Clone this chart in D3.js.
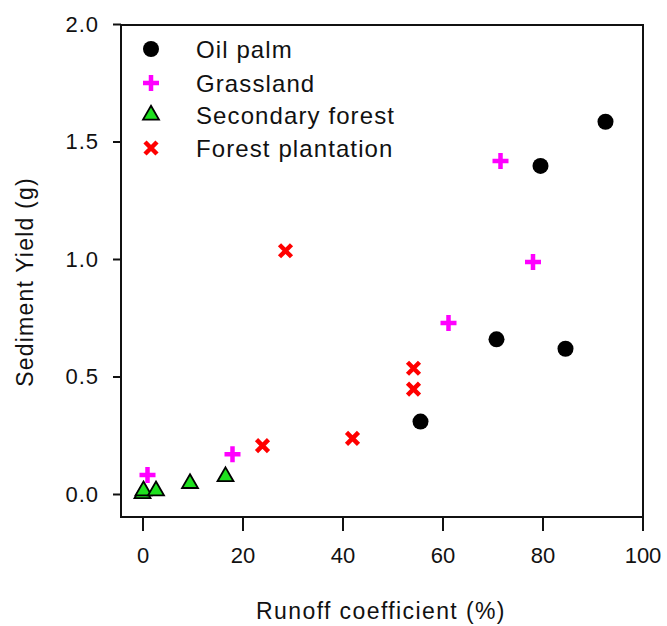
<!DOCTYPE html>
<html><head><meta charset="utf-8">
<script src="https://cdn.jsdelivr.net/npm/d3@7"></script>
<style>body{margin:0;background:#fff;} text{font-family:"Liberation Sans",Arial,sans-serif;fill:#111;}</style>
</head><body>
<svg id="c" width="667" height="626"></svg>
<script>
const oilPalmX = [55.6, 70.8, 84.6, 79.6, 92.6];
const oilPalmY = [0.308, 0.658, 0.618, 1.396, 1.584];
const grassX = [1.0, 18.0, 61.2, 71.6, 78.1];
const grassY = [0.081, 0.169, 0.728, 1.417, 0.987];
const secX = [0.0, 0.2, 2.7, 9.5, 16.6];
const secY = [0.002, 0.014, 0.014, 0.045, 0.074];
const plantX = [24.0, 28.6, 42.0, 54.2, 54.2];
const plantY = [0.206, 1.035, 0.237, 0.535, 0.446];
const xTicks = [0, 20, 40, 60, 80, 100];
const yTicks = [0.0, 0.5, 1.0, 1.5, 2.0];
const seriesNames = ["Oil palm", "Grassland", "Secondary forest", "Forest plantation"];

const svg = d3.select("#c");
const L = 121, R = 643, T = 25, B = 517;
const x = d3.scaleLinear().domain([-4.3, 100]).range([L - 0, 642.5]);
const y = d3.scaleLinear().domain([-0.0979, 2.0]).range([B, 24]);

// frame
svg.append("rect").attr("x", L).attr("y", T).attr("width", R - L).attr("height", B - T)
  .attr("fill", "none").attr("stroke", "#111").attr("stroke-width", 2);

// x axis
const xa = svg.append("g").attr("transform", `translate(0,${B})`)
  .call(d3.axisBottom(x).tickValues(xTicks).tickSize(14).tickPadding(16).tickFormat(d3.format("d")));
xa.select(".domain").remove();
xa.selectAll("line").attr("stroke", "#111").attr("stroke-width", 2);
xa.selectAll("text").attr("font-size", 22).attr("fill", "#111").attr("font-family", "Liberation Sans, Arial, sans-serif");

// y axis
const ya = svg.append("g").attr("transform", `translate(${L},0)`)
  .call(d3.axisLeft(y).tickValues(yTicks).tickSize(8).tickPadding(14).tickFormat(d3.format(".1f")));
ya.select(".domain").remove();
ya.selectAll("line").attr("stroke", "#111").attr("stroke-width", 2);
ya.selectAll("text").attr("font-size", 22).attr("fill", "#111").attr("font-family", "Liberation Sans, Arial, sans-serif").attr("letter-spacing", "1px");

// titles
svg.append("text").attr("x", 381).attr("y", 619).attr("text-anchor", "middle")
  .attr("font-size", 23).attr("letter-spacing", "1.4px").text("Runoff coefficient (%)");
svg.append("text").attr("transform", "translate(33,282) rotate(-90)").attr("text-anchor", "middle")
  .attr("font-size", 23).attr("letter-spacing", "1.2px").text("Sediment Yield (g)");

// symbol drawers
function circle(g, cx, cy) {
  g.append("circle").attr("cx", cx).attr("cy", cy).attr("r", 8).attr("fill", "#000");
}
function plus(g, cx, cy) {
  g.append("path").attr("d", `M${cx-8},${cy}H${cx+8}M${cx},${cy-8}V${cy+8}`)
    .attr("stroke", "#ff00ff").attr("stroke-width", 4.5).attr("fill", "none");
}
function tri(g, cx, cy) {
  g.append("path").attr("d", d3.symbol().type(d3.symbolTriangle).size(110)())
    .attr("transform", `translate(${cx},${cy})`)
    .attr("fill", "#1fe01f").attr("stroke", "#000").attr("stroke-width", 1.8);
}
function cross(g, cx, cy) {
  g.append("path").attr("d", `M${cx-6},${cy-6}L${cx+6},${cy+6}M${cx-6},${cy+6}L${cx+6},${cy-6}`)
    .attr("stroke", "#ff0000").attr("stroke-width", 4.5).attr("fill", "none");
}

const pts = svg.append("g");
secX.forEach((v, i) => tri(pts, x(v), y(secY[i])));
plantX.forEach((v, i) => cross(pts, x(v), y(plantY[i])));
grassX.forEach((v, i) => plus(pts, x(v), y(grassY[i])));
oilPalmX.forEach((v, i) => circle(pts, x(v), y(oilPalmY[i])));

// legend
const lg = svg.append("g");
const ly = [49, 83, 115, 148];
const drawers = [circle, plus, tri, cross];
seriesNames.forEach((n, i) => {
  drawers[i](lg, 151, ly[i]);
  lg.append("text").attr("x", 196).attr("y", ly[i] + 8.5).attr("font-size", 24)
    .attr("letter-spacing", "1.1px").text(n);
});
</script>
</body></html>
